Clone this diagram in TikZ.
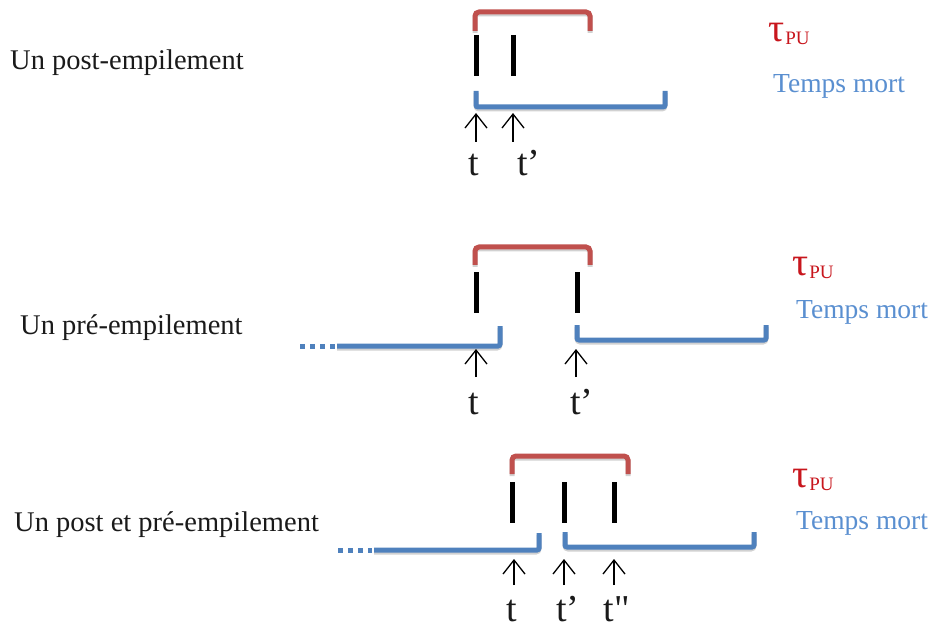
\documentclass[tikz,border=0pt]{standalone}
\usepackage{fontspec}
\setmainfont{Liberation Serif}
\newfontfamily\plainserif{Liberation Serif}
\usetikzlibrary{arrows.meta}
\definecolor{brred}{HTML}{C0504D}
\definecolor{brblue}{HTML}{4F81BD}
\definecolor{taured}{HTML}{C8161D}
\definecolor{tmblue}{HTML}{5A8FD0}
\definecolor{txt}{HTML}{1A1A1A}
\tikzset{
  redbr/.style={draw=brred, line width=5pt, rounded corners=4pt},
  bluebr/.style={draw=brblue, line width=5pt, rounded corners=2pt},
  shadowbr/.style={draw=black!40, line width=5pt, rounded corners=3pt, opacity=0.45},
  dotbr/.style={draw=brblue, line width=5pt, dash pattern=on 5pt off 5pt},
  tick/.style={draw=black, line width=5pt},
  arr/.style={draw=black, line width=1.3pt, -{Straight Barb[length=14pt,width=22pt,line width=1.3pt]}},
  lbl/.style={font=\fontsize{28.5}{30}\selectfont, text=txt, anchor=base west, inner sep=0pt},
  tlbl/.style={font=\fontsize{38}{40}\selectfont, text=txt, anchor=base, inner sep=0pt},
  tau/.style={font=\fontsize{40}{42}\selectfont, text=taured, anchor=base west, inner sep=0pt},
  tm/.style={font=\fontsize{27.5}{29}\selectfont, text=tmblue, anchor=base west, inner sep=0pt}
}
\newcommand{\taupu}{τ\kern1pt\raisebox{-3pt}{\fontsize{19}{19}\selectfont PU}}
\begin{document}
\begin{tikzpicture}[x=1pt,y=-1pt]
\useasboundingbox (0,0) rectangle (931,628);

% ---------------- Row 1: post-empilement
\node[lbl] (n1) at (10,70) {Un post-empilement};
\node[tau] (tau1) at (768,42) {\taupu};
\node[tm] (tm1) at (773,93) {Temps mort};
\coordinate (r1a) at (475,31); \coordinate (r1b) at (590,31);
\draw[shadowbr] ([yshift=-2pt]r1a) -- ([yshift=-2pt]475,12) -- ([yshift=-2pt]590,12) -- ([yshift=-2pt]r1b);
\draw[redbr] (r1a) -- (475,12) -- (590,12) -- (r1b);
\coordinate (k1a) at (476,35); \coordinate (k1b) at (476,76);
\coordinate (k2a) at (513,35); \coordinate (k2b) at (513,76);
\draw[tick] (k1a) -- (k1b);
\draw[tick] (k2a) -- (k2b);
\coordinate (b1a) at (476,91); \coordinate (b1b) at (665,91);
\draw[shadowbr] ([yshift=-2pt]b1a) -- ([yshift=-2pt]476,107) -- ([yshift=-2pt]665,107) -- ([yshift=-2pt]b1b);
\draw[bluebr] (b1a) -- (476,107) -- (665,107) -- (b1b);
\coordinate (a1s) at (476,142); \coordinate (a1e) at (476,113);
\coordinate (a2s) at (513,142); \coordinate (a2e) at (513,113);
\draw[arr] (a1s) -- (a1e);
\draw[arr] (a2s) -- (a2e);
\node[tlbl] (t1) at (474,176) {t};
\node[tlbl] (t1p) at (529,176) {t’};

% ---------------- Row 2: pré-empilement
\node[lbl] (n2) at (20,334) {Un pré-empilement};
\node[tau] (tau2) at (792,276) {\taupu};
\node[tm] (tm2) at (796,318) {Temps mort};
\coordinate (r2a) at (475,265); \coordinate (r2b) at (590,265);
\draw[shadowbr] ([yshift=-2pt]r2a) -- ([yshift=-2pt]475,247) -- ([yshift=-2pt]590,247) -- ([yshift=-2pt]r2b);
\draw[redbr] (r2a) -- (475,247) -- (590,247) -- (r2b);
\coordinate (k3a) at (476,272); \coordinate (k3b) at (476,313);
\coordinate (k4a) at (577,272); \coordinate (k4b) at (577,313);
\draw[tick] (k3a) -- (k3b);
\draw[tick] (k4a) -- (k4b);
\coordinate (d2a) at (300,346); \coordinate (d2b) at (335,346);
\coordinate (b2a) at (337,346); \coordinate (b2b) at (500,326);
\draw[dotbr] (d2a) -- (d2b);
\draw[shadowbr] ([yshift=-2pt]b2a) -- ([yshift=-2pt]500,346) -- ([yshift=-2pt]b2b);
\draw[bluebr] (b2a) -- (500,346) -- (b2b);
\coordinate (b3a) at (577,325); \coordinate (b3b) at (766,325);
\draw[shadowbr] ([yshift=-2pt]b3a) -- ([yshift=-2pt]577,340) -- ([yshift=-2pt]766,340) -- ([yshift=-2pt]b3b);
\draw[bluebr] (b3a) -- (577,340) -- (766,340) -- (b3b);
\coordinate (a3s) at (476,377); \coordinate (a3e) at (476,349);
\coordinate (a4s) at (576,377); \coordinate (a4e) at (576,349);
\draw[arr] (a3s) -- (a3e);
\draw[arr] (a4s) -- (a4e);
\node[tlbl] (t2) at (474,414) {t};
\node[tlbl] (t2p) at (582,414) {t’};

% ---------------- Row 3: post et pré-empilement
\node[lbl] (n3) at (14,531) {Un post et pré-empilement};
\node[tau] (tau3) at (792,487) {\taupu};
\node[tm] (tm3) at (796,529) {Temps mort};
\coordinate (r3a) at (512,474); \coordinate (r3b) at (628,474);
\draw[shadowbr] ([yshift=-2pt]r3a) -- ([yshift=-2pt]512,456) -- ([yshift=-2pt]628,456) -- ([yshift=-2pt]r3b);
\draw[redbr] (r3a) -- (512,456) -- (628,456) -- (r3b);
\coordinate (k5a) at (512,482); \coordinate (k5b) at (512,523);
\coordinate (k6a) at (564,482); \coordinate (k6b) at (564,523);
\coordinate (k7a) at (614,482); \coordinate (k7b) at (614,523);
\draw[tick] (k5a) -- (k5b);
\draw[tick] (k6a) -- (k6b);
\draw[tick] (k7a) -- (k7b);
\coordinate (d3a) at (338,550); \coordinate (d3b) at (372,550);
\coordinate (b4a) at (374,550); \coordinate (b4b) at (539,533);
\draw[dotbr] (d3a) -- (d3b);
\draw[shadowbr] ([yshift=-2pt]b4a) -- ([yshift=-2pt]539,550) -- ([yshift=-2pt]b4b);
\draw[bluebr] (b4a) -- (539,550) -- (b4b);
\coordinate (b5a) at (565,532); \coordinate (b5b) at (754,532);
\draw[shadowbr] ([yshift=-2pt]b5a) -- ([yshift=-2pt]565,547) -- ([yshift=-2pt]754,547) -- ([yshift=-2pt]b5b);
\draw[bluebr] (b5a) -- (565,547) -- (754,547) -- (b5b);
\coordinate (a5s) at (514,585); \coordinate (a5e) at (514,559);
\coordinate (a6s) at (564,585); \coordinate (a6e) at (564,559);
\coordinate (a7s) at (614,585); \coordinate (a7e) at (614,559);
\draw[arr] (a5s) -- (a5e);
\draw[arr] (a6s) -- (a6e);
\draw[arr] (a7s) -- (a7e);
\node[tlbl] (t3) at (512,621) {t};
\node[tlbl] (t3p) at (568,621) {t’};
\node[tlbl] (t3pp) at (617,621) {\plainserif t"};
\end{tikzpicture}
\end{document}
